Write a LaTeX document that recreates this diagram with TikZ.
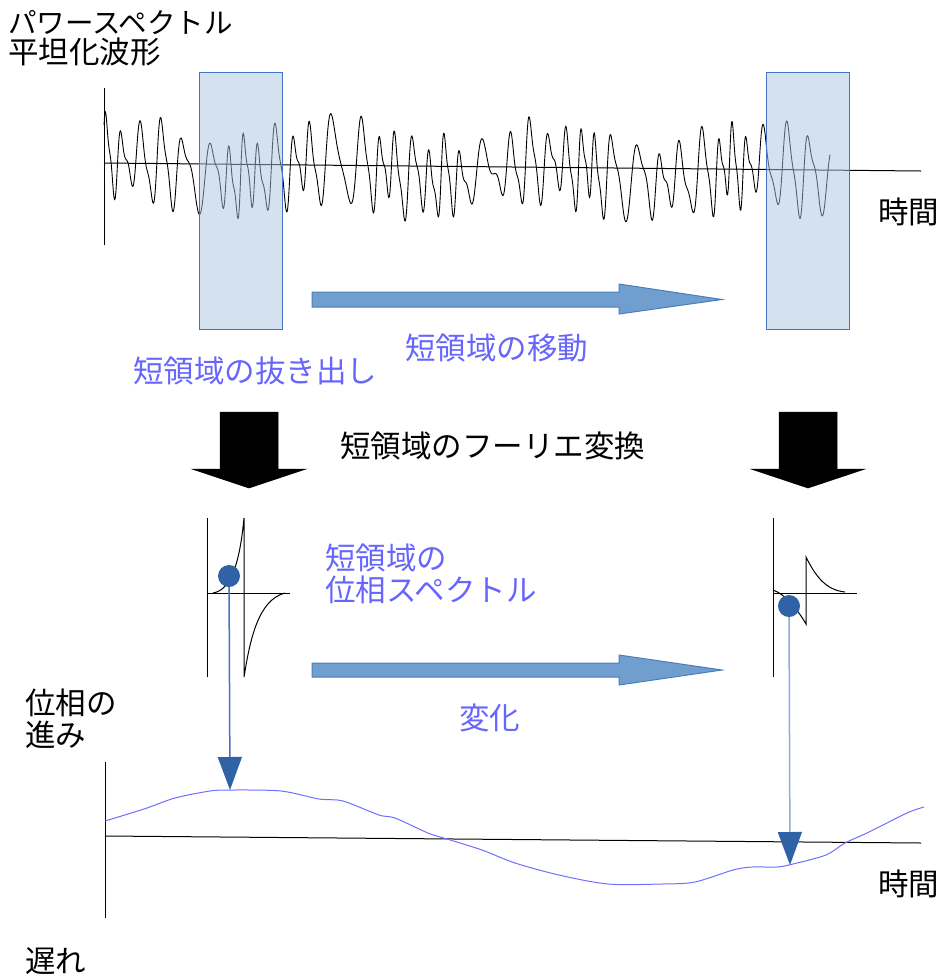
\documentclass[tikz,border=0pt]{standalone}
\usepackage{fontspec}
\setmainfont{Noto Sans CJK JP}
\usetikzlibrary{arrows.meta}
\definecolor{boxfill}{RGB}{169,195,221}
\definecolor{boxline}{RGB}{68,114,196}
\definecolor{arrfill}{RGB}{112,158,207}
\definecolor{arrline}{RGB}{74,126,187}
\definecolor{lbl}{RGB}{102,102,255}
\definecolor{dotblue}{RGB}{47,99,165}
\definecolor{vlineA}{RGB}{68,114,196}
\definecolor{vlineB}{RGB}{143,170,220}
\definecolor{phasecol}{RGB}{110,110,255}
\begin{document}
\begin{tikzpicture}[x=1pt,y=-1pt,
  declare function={th(\t)=19*\t+125*sin(2.3*\t)+45*sin(5.1*\t+40);},
  txt/.style={anchor=west,inner sep=0pt,font=\fontsize{30.5}{36}\selectfont},
  bluetxt/.style={txt,text=lbl},
  axisline/.style={line width=1pt,draw=black},
  wave/.style={line width=0.9pt,draw=black,line join=round},
  winbox/.style={fill=boxfill,fill opacity=0.5,draw=boxline,line width=1pt},
  bluearrow/.style={fill=arrfill,draw=arrline,line width=1pt,line join=miter},
  blackarrow/.style={fill=black,draw=black,line width=0.5pt},
  dotc/.style={circle,fill=dotblue,minimum size=22pt,inner sep=0pt},
  vA/.style={line width=1.5pt,draw=vlineA,-{Triangle[width=24pt,length=33pt,color=dotblue]}},
  vB/.style={line width=1.5pt,draw=vlineB,-{Triangle[width=24pt,length=33pt,color=dotblue]}},
  phasecurve/.style={line width=1pt,draw=phasecol},
  spec/.style={line width=1pt,draw=black}]
\useasboundingbox (0,0) rectangle (945,978);

% ---- top waveform ----
\draw[axisline] (104,88) -- (104,245);
\draw[axisline] (104,163) -- (921,171);
\draw[wave] plot[domain=0:726,samples=1100]
  ({104+\x},{167+8*\x/817-(32*sin(th(\x))+22*sin(th(\x))*cos(th(\x))+10*sin(12.7*\x+70)+9*sin(1.7*\x+60))});
\draw[winbox] (199,72) rectangle (282,329);
\draw[winbox] (766,72) rectangle (849,329);

% ---- arrows ----
\draw[bluearrow] (312,292) -- (619,292) -- (619,284) -- (722,299.5) -- (619,314) -- (619,307) -- (312,307) -- cycle;
\draw[bluearrow] (312,663) -- (619,663) -- (619,655) -- (722,670) -- (619,685) -- (619,677) -- (312,677) -- cycle;
\draw[blackarrow] (220,412) -- (278,412) -- (278,469) -- (306,469) -- (249,488) -- (192,469) -- (220,469) -- cycle;
\draw[blackarrow] (779,412) -- (837,412) -- (837,469) -- (865,469) -- (808,488) -- (751,469) -- (779,469) -- cycle;

% ---- left phase spectrum ----
\draw[spec] (207,518) -- (207,677);
\draw[spec] (207,593) -- (290,593);
\draw[spec] (213,593) .. controls (232,590) and (240,560) .. (244,518) -- (244,677)
  .. controls (250,640) and (258,600) .. (285,593);
% ---- right phase spectrum ----
\draw[spec] (773,518) -- (773,677);
\draw[spec] (773,593) -- (857,593);
\draw[spec] (773,590) .. controls (785,594) and (798,610) .. (806,624) -- (806,557)
  .. controls (815,575) and (825,590) .. (845,592);

% ---- bottom graph ----
\draw[axisline] (105,762) -- (105,918);
\draw[axisline] (105,836) -- (921,843);
\draw[phasecurve] plot[smooth,tension=0.5] coordinates {(105,821) (144,809) (175,798) (210,791) (231,790) (281,791) (319,799) (343,801) (379,815) (395,818) (428,833) (447,839) (482,850) (515,863) (559,875) (608,884) (662,884) (695,882) (733,870) (752,867) (777,867) (793,864) (826,855) (845,843) (869,832) (907,813) (924,807)};

% ---- markers and drop lines ----
\coordinate (t1) at (230,790);
\coordinate (t2) at (790,865);
\node[dotc] (c1) at (229,576) {};
\node[dotc] (c2) at (789,606) {};
\draw[vA] (c1) -- (t1);
\draw[vB] (c2) -- (t2);

% ---- texts ----
\node[txt,font=\fontsize{28.5}{34}\selectfont] (title1) at (8,23) {パワースペクトル};
\node[txt] (title2) at (8,52) {平坦化波形};
\node[txt] (time1) at (878,212) {時間};
\node[bluetxt] (extract) at (133,371) {短領域の抜き出し};
\node[bluetxt] (move) at (405,348) {短領域の移動};
\node[txt] (fourier) at (340,446) {短領域のフーリエ変換};
\node[bluetxt] (ps1) at (325,558) {短領域の};
\node[bluetxt] (ps2) at (325,590) {位相スペクトル};
\node[bluetxt] (change) at (459,718) {変化};
\node[txt] (adv1) at (25,703) {位相の};
\node[txt] (adv2) at (25,735) {進み};
\node[txt] (lag) at (25,961) {遅れ};
\node[txt] (time2) at (878,884) {時間};
\end{tikzpicture}
\end{document}
